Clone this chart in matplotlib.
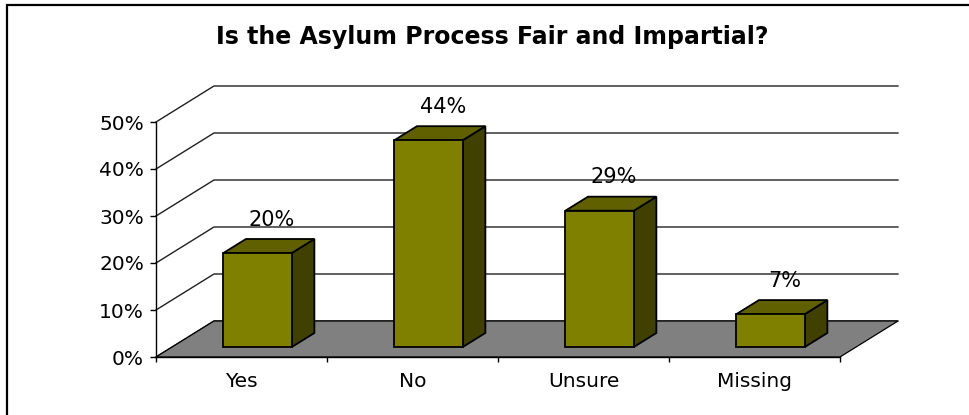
import matplotlib
matplotlib.use("Agg")
import matplotlib.pyplot as plt
from matplotlib.patches import Polygon, Rectangle

# Survey responses
categories = ["Yes", "No", "Unsure", "Missing"]
shares = [20, 44, 29, 7]          # percent of respondents
y_ticks = [0, 10, 20, 30, 40, 50]
title = "Is the Asylum Process Fair and Impartial?"

# Oblique projection of the floor depth (in data units along x and y)
DEPTH_X = 0.339
DEPTH_Y = 7.66
BAR_FRONT, BAR_BACK = 0.278, 0.667
BAR_WIDTH = 0.4

FACE = "#808000"
TOP = "#606000"
SIDE = "#404000"
FLOOR = "#808080"


def proj(x, y, d):
    return (x + d * DEPTH_X, y + d * DEPTH_Y)


fig = plt.figure(figsize=(9.69, 4.15), dpi=100)
fig.patch.set_facecolor("white")
ax = fig.add_axes([156 / 969, 58 / 415, 684 / 969, 235 / 415])
ax.set_facecolor("none")
n = len(categories)
ax.set_xlim(0, n)
ax.set_ylim(0, y_ticks[-1])

# Left and back walls: gridlines
for v in y_ticks:
    xs, ys = zip(proj(0, v, 0), proj(0, v, 1), proj(n, v, 1))
    ax.plot(xs, ys, color="#202020", lw=1.0, clip_on=False, zorder=1)

# Floor
floor = Polygon([proj(0, 0, 0), proj(n, 0, 0), proj(n, 0, 1), proj(0, 0, 1)],
                closed=True, facecolor=FLOOR, edgecolor="black", lw=0.9,
                clip_on=False, zorder=2)
ax.add_patch(floor)

# 3-D bars
for i, v in enumerate(shares):
    x0 = i + 0.5 - BAR_WIDTH / 2
    x1 = i + 0.5 + BAR_WIDTH / 2
    front = [proj(x0, 0, BAR_FRONT), proj(x1, 0, BAR_FRONT),
             proj(x1, v, BAR_FRONT), proj(x0, v, BAR_FRONT)]
    top = [proj(x0, v, BAR_FRONT), proj(x1, v, BAR_FRONT),
           proj(x1, v, BAR_BACK), proj(x0, v, BAR_BACK)]
    side = [proj(x1, 0, BAR_FRONT), proj(x1, 0, BAR_BACK),
            proj(x1, v, BAR_BACK), proj(x1, v, BAR_FRONT)]
    for pts, col in ((side, SIDE), (top, TOP), (front, FACE)):
        ax.add_patch(Polygon(pts, closed=True, facecolor=col, edgecolor="black",
                             lw=1.3, joinstyle="miter", clip_on=False, zorder=4))
    mid = proj(i + 0.5, v, (BAR_FRONT + BAR_BACK) / 2)
    ax.annotate(f"{v}%", xy=mid, xytext=(2, 19), textcoords="offset points",
                ha="center", va="center", fontsize=15, color="black",
                annotation_clip=False, zorder=6)

# Axes, ticks and labels
for s in ("top", "right"):
    ax.spines[s].set_visible(False)
for s in ("left", "bottom"):
    ax.spines[s].set_color("black")
    ax.spines[s].set_linewidth(1.0)
    ax.spines[s].set_zorder(5)

ax.set_yticks(y_ticks)
ax.set_yticklabels([f"{t}%" for t in y_ticks])
ax.tick_params(axis="y", direction="out", length=4.3, width=1.0, pad=4.3,
               labelsize=14.5, colors="black")

ax.set_xticks(range(n + 1))
ax.set_xticklabels([])
ax.set_xticks([i + 0.5 for i in range(n)], minor=True)
ax.set_xticklabels(categories, minor=True)
ax.tick_params(axis="x", which="major", direction="out", length=3.6, width=1.0)
ax.tick_params(axis="x", which="minor", length=0, pad=10.5, labelsize=14.5,
               colors="black")

fig.text(492 / 969, (415 - 44) / 415, title, ha="center", va="baseline",
         fontsize=17, fontweight="bold", color="black")

# Chart area frame
fig.add_artist(Rectangle((7 / 969, -0.05), 1.05, (415 - 5) / 415 + 0.05,
                         transform=fig.transFigure, fill=False,
                         edgecolor="black", lw=1.6))

fig.savefig("out.png", dpi=100)
